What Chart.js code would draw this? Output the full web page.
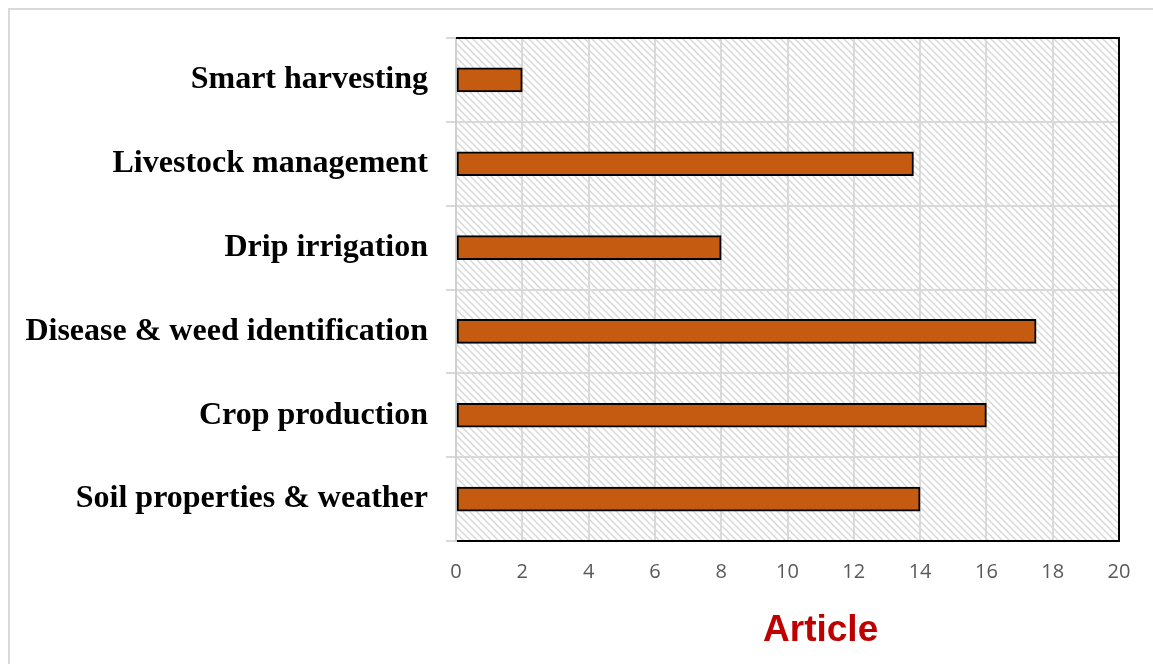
<!DOCTYPE html>
<html>
<head>
<meta charset="utf-8">
<script src="https://cdn.jsdelivr.net/npm/chart.js@4.4.1/dist/chart.umd.min.js"></script>
<style>
  html, body { margin: 0; padding: 0; background: #ffffff; overflow: hidden; }
  #frame {
    position: absolute; left: 8px; top: 8px; width: 1300px; height: 800px;
    border-left: 2px solid #d9d9d9; border-top: 2px solid #d9d9d9;
  }
  #wrap { position: absolute; left: 0; top: 0; width: 1153px; height: 664px; }
</style>
</head>
<body>
<div id="frame"></div>
<div id="wrap"><canvas id="chart" width="1153" height="664"></canvas></div>
<script>
// Research topics and number of articles per topic
const categories = [
  'Smart harvesting',
  'Livestock management',
  'Drip irrigation',
  'Disease & weed identification',
  'Crop production',
  'Soil properties & weather'
];
const articles = [2, 13.8, 8, 17.5, 16, 14];
const xTicks = [0, 2, 4, 6, 8, 10, 12, 14, 16, 18, 20];
const axisTitle = 'Article';

// Diagonal hatch used as the plot-area fill
function makeHatch(ctx) {
  const c = document.createElement('canvas');
  const s = 7;
  c.width = s; c.height = s;
  const g = c.getContext('2d');
  g.fillStyle = '#ffffff';
  g.fillRect(0, 0, s, s);
  g.strokeStyle = '#d9d9d9';
  g.lineWidth = 1.5;
  g.beginPath();
  g.moveTo(-1, -1); g.lineTo(s + 1, s + 1);
  g.moveTo(-1, s - 1); g.lineTo(1, s + 1);
  g.moveTo(s - 1, -1); g.lineTo(s + 1, 1);
  g.stroke();
  return ctx.createPattern(c, 'repeat');
}

const plotDecor = {
  id: 'plotDecor',
  beforeDraw(chart) {
    const { ctx, chartArea: a } = chart;
    ctx.save();
    ctx.fillStyle = makeHatch(ctx);
    ctx.fillRect(a.left, a.top, a.right - a.left, a.bottom - a.top);
    ctx.restore();
  },
  afterDatasetsDraw(chart) {
    const { ctx, chartArea: a } = chart;
    ctx.save();
    ctx.strokeStyle = '#000000';
    ctx.lineWidth = 2;
    ctx.beginPath();
    ctx.moveTo(a.left, a.top);
    ctx.lineTo(a.right, a.top);
    ctx.lineTo(a.right, a.bottom);
    ctx.stroke();
    ctx.restore();
  },
  afterDraw(chart) {
    const { ctx } = chart;
    const x = chart.scales.x;
    ctx.save();
    ctx.font = 'bold 37px "Liberation Sans", Arial, sans-serif';
    ctx.fillStyle = '#c00000';
    ctx.textAlign = 'center';
    ctx.textBaseline = 'middle';
    ctx.fillText(axisTitle, x.getPixelForValue(11.0), 631);
    ctx.restore();
  }
};

new Chart(document.getElementById('chart'), {
  type: 'bar',
  data: {
    labels: categories,
    datasets: [{
      data: articles,
      backgroundColor: '#c55a11',
      borderColor: '#000000',
      borderWidth: 2,
      borderSkipped: false,
      barThickness: 24
    }]
  },
  options: {
    indexAxis: 'y',
    responsive: false,
    animation: false,
    events: [],
    layout: { padding: { left: 0, right: 34, top: 38, bottom: 0 } },
    plugins: { legend: { display: false }, tooltip: { enabled: false } },
    scales: {
      x: {
        min: 0, max: 20,
        afterBuildTicks(s) { s.ticks = xTicks.map(v => ({ value: v })); },
        afterFit(s) { s.height = 123; },
        grid: { color: '#d9d9d9', lineWidth: 2, drawTicks: false },
        border: { color: '#000000', width: 2 },
        ticks: {
          padding: 19,
          color: '#595959',
          font: { family: '"Open Sans", "Liberation Sans", sans-serif', size: 20 }
        }
      },
      y: {
        offset: true,
        afterFit(s) { s.width = 456; },
        grid: { offset: true, color: '#d9d9d9', lineWidth: 2, tickLength: 10 },
        border: { color: '#d0d0d0', width: 2 },
        ticks: {
          padding: 18,
          color: '#000000',
          font: { family: '"Liberation Serif", "Times New Roman", serif', size: 32, weight: 'bold' }
        }
      }
    }
  },
  plugins: [plotDecor]
});
</script>
</body>
</html>
